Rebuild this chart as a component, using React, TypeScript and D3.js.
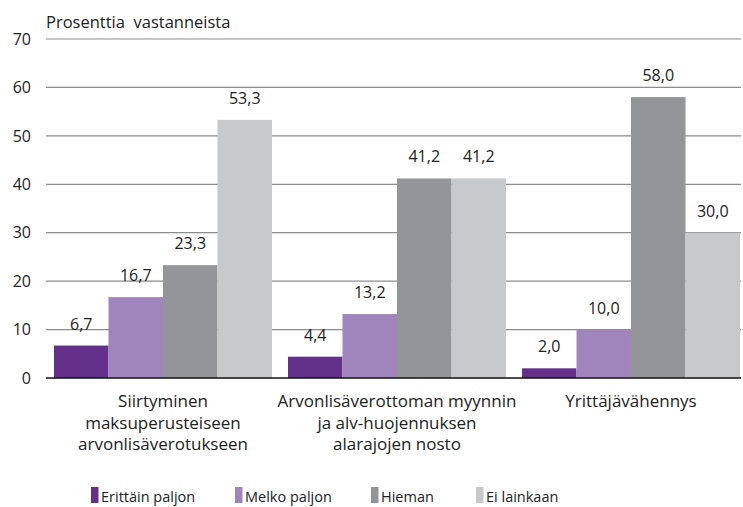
import React from "react";
import * as d3 from "d3";

const categories = [
  ["Siirtyminen", "maksuperusteiseen", "arvonlisäverotukseen"],
  ["Arvonlisäverottoman myynnin", "ja alv-huojennuksen", "alarajojen nosto"],
  ["Yrittäjävähennys"],
];
const seriesNames = ["Erittäin paljon", "Melko paljon", "Hieman", "Ei lainkaan"];
const erittain = [6.7, 4.4, 2.0];
const melko = [16.7, 13.2, 10.0];
const hieman = [23.3, 41.2, 58.0];
const eiLainkaan = [53.3, 41.2, 30.0];
const yTicks = [0, 10, 20, 30, 40, 50, 60, 70];
const colors = ["#63318a", "#a085bc", "#939598", "#c8c9cb"];
const title = "Prosenttia  vastanneista";

const series = [erittain, melko, hieman, eiLainkaan];
const FONT = "'Open Sans', 'Noto Sans', sans-serif";

export default function App() {
  const W = 743, H = 507;
  const left = 46, right = 741, top = 39, bottom = 378;
  const x0 = d3.scaleBand<number>().domain([0, 1, 2]).range([54, 740]).paddingInner(0.0684).paddingOuter(0);
  const x1 = d3.scaleBand<number>().domain([0, 1, 2, 3]).range([0, x0.bandwidth()]);
  const y = d3.scaleLinear().domain([0, 70]).range([bottom, top]);
  const fmt = (v: number) => v.toFixed(1).replace(".", ",");
  const legendX = [91, 235, 371, 476];

  return (
    <svg width={W} height={H} style={{ position: "absolute", left: 0, top: 0 }} fontFamily={FONT}>
      <rect width={W} height={H} fill="#fff" />
      <text x={46} y={28} fontSize={16.5} fill="#222" style={{ whiteSpace: "pre" }}>{title}</text>
      {yTicks.map((t) => (
        <g key={t}>
          {t > 0 && <line x1={left} x2={right} y1={y(t)} y2={y(t)} stroke="#8c8c8c" strokeWidth={1.2} />}
          <text x={31} y={y(t)} dy="0.36em" textAnchor="end" fontSize={16} fill="#222">{t}</text>
        </g>
      ))}
      {categories.map((_, ci) =>
        series.map((s, si) => {
          const bx = (x0(ci) ?? 0) + (x1(si) ?? 0);
          const bw = x1.bandwidth();
          return (
            <g key={`${ci}-${si}`}>
              <rect x={bx} y={y(s[ci])} width={bw} height={bottom - y(s[ci])} fill={colors[si]} />
              <text x={bx + bw / 2} y={y(s[ci]) - 16} textAnchor="middle" fontSize={16} fill="#222">{fmt(s[ci])}</text>
            </g>
          );
        })
      )}
      <line x1={left} x2={right} y1={bottom} y2={bottom} stroke="#111" strokeWidth={1.5} />
      {categories.map((lines, ci) => (
        <text key={ci} textAnchor="middle" fontSize={17} fill="#222">
          {lines.map((l, li) => (
            <tspan key={li} x={(x0(ci) ?? 0) + x0.bandwidth() / 2} y={407 + li * 21.7}>{l}</tspan>
          ))}
        </text>
      ))}
      {seriesNames.map((n, i) => (
        <g key={n}>
          <rect x={legendX[i]} y={487} width={7.5} height={16} fill={colors[i]} />
          <text x={legendX[i] + 10} y={502} fontSize={14.5} fill="#222">{n}</text>
        </g>
      ))}
    </svg>
  );
}
